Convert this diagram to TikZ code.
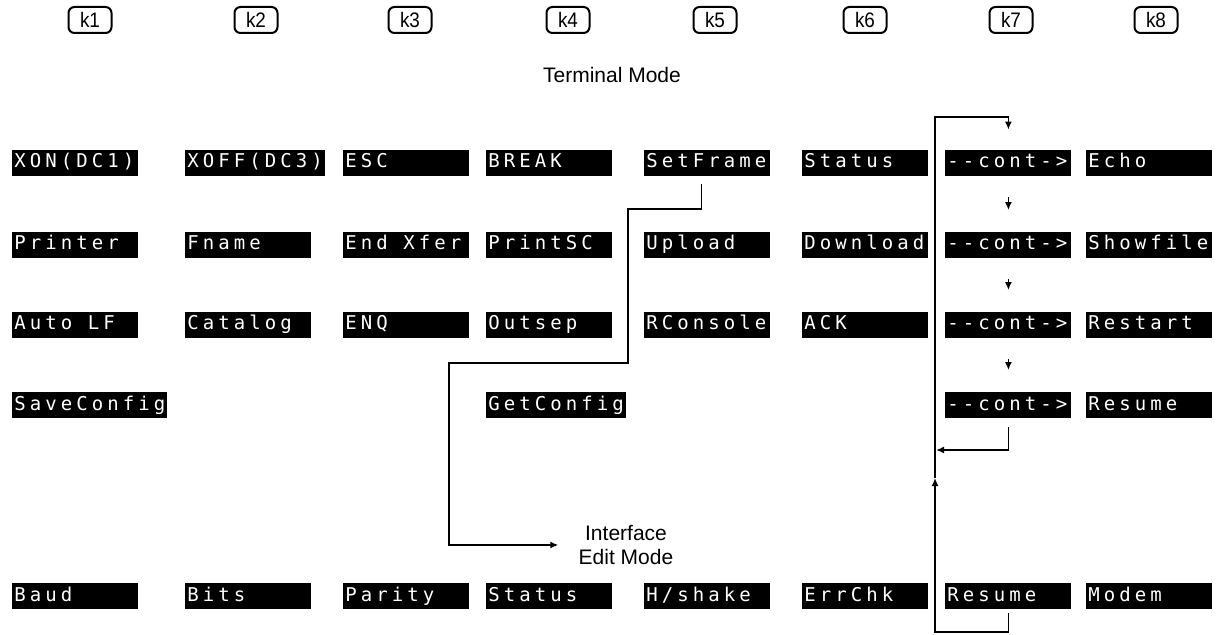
\documentclass[tikz,border=0pt]{standalone}
\usepackage{fontspec}
\setmainfont{Liberation Sans}
\newfontfamily\dispfont[LetterSpace=21.4]{DejaVu Sans Mono}
\newfontfamily\capfont[FakeStretch=0.9]{Liberation Sans}
\usetikzlibrary{arrows.meta}

\newlength\skwd
\newcommand\skey[1]{\settowidth\skwd{#1}\ifdim\skwd<61pt\makebox[61pt][l]{#1}\else#1\fi}

\tikzset{
  softkey/.style={fill=black, text=white, font=\dispfont\fontsize{9.5}{11}\selectfont,
    inner xsep=1pt, inner ysep=0pt, minimum height=13pt, text height=7pt, text depth=2pt, anchor=west},
  keycap/.style={draw, rounded corners=3pt, line width=1pt, minimum width=21.5pt,
    minimum height=13pt, inner sep=0pt, font=\capfont\fontsize{10.5}{11}\selectfont},
  modelabel/.style={font=\fontsize{10.5}{12}\selectfont, align=center, inner sep=0pt},
  link/.style={line width=0.9pt},
  arr/.style={link, -{Latex[length=4pt,width=3.5pt]}}
}

\begin{document}
\begin{tikzpicture}[x=0.5pt,y=-0.5pt]
   \useasboundingbox (0,0) rectangle (1224,635);

   %teclas
   \node[keycap] (k1) at (90,20) {k1};
   \node[keycap] (k2) at (256,20) {k2};
   \node[keycap] (k3) at (410,20) {k3};
   \node[keycap] (k4) at (568,20) {k4};
   \node[keycap] (k5) at (715,20) {k5};
   \node[keycap] (k6) at (865,20) {k6};
   \node[keycap] (k7) at (1011,20) {k7};
   \node[keycap] (k8) at (1156,20) {k8};

   \node[modelabel] (term) at (612,75) {Terminal Mode};

   %fila 1
   \node[softkey] (xon) at (12,163) {\skey{XON(DC1)}};
   \node[softkey] (xoff) at (185,163) {\skey{XOFF(DC3)}};
   \node[softkey] (esc) at (343,163) {\skey{ESC}};
   \node[softkey] (brk) at (486,163) {\skey{BREAK}};
   \node[softkey] (setframe) at (644,163) {\skey{SetFrame}};
   \node[softkey] (status) at (802,163) {\skey{Status}};
   \node[softkey] (cont1) at (945,163) {\skey{--cont->}};
   \node[softkey] (echo) at (1086,163) {\skey{Echo}};

   %fila 2
   \node[softkey] (printer) at (12,245) {\skey{Printer}};
   \node[softkey] (fname) at (185,245) {\skey{Fname}};
   \node[softkey] (endxfer) at (343,245) {\skey{End Xfer}};
   \node[softkey] (printsc) at (486,245) {\skey{PrintSC}};
   \node[softkey] (upload) at (644,245) {\skey{Upload}};
   \node[softkey] (download) at (802,245) {\skey{Download}};
   \node[softkey] (cont2) at (945,245) {\skey{--cont->}};
   \node[softkey] (showfile) at (1086,245) {\skey{Showfile}};

   %fila 3
   \node[softkey] (autolf) at (12,325) {\skey{Auto LF}};
   \node[softkey] (catalog) at (185,325) {\skey{Catalog}};
   \node[softkey] (enq) at (343,325) {\skey{ENQ}};
   \node[softkey] (outsep) at (486,325) {\skey{Outsep}};
   \node[softkey] (rconsole) at (644,325) {\skey{RConsole}};
   \node[softkey] (ack) at (802,325) {\skey{ACK}};
   \node[softkey] (cont3) at (945,325) {\skey{--cont->}};
   \node[softkey] (restart) at (1086,325) {\skey{Restart}};

   %fila 4
   \node[softkey] (saveconfig) at (12,405) {\skey{SaveConfig}};
   \node[softkey] (getconfig) at (486,405) {\skey{GetConfig}};
   \node[softkey] (cont4) at (945,405) {\skey{--cont->}};
   \node[softkey] (resume) at (1086,405) {\skey{Resume}};

   %modo interfaz
   \node[modelabel] (iface) at (626,545) {Interface\\Edit Mode};
   \node[softkey] (baud) at (12,596) {\skey{Baud}};
   \node[softkey] (bits) at (185,596) {\skey{Bits}};
   \node[softkey] (parity) at (343,596) {\skey{Parity}};
   \node[softkey] (istatus) at (486,596) {\skey{Status}};
   \node[softkey] (hshake) at (644,596) {\skey{H/shake}};
   \node[softkey] (errchk) at (802,596) {\skey{ErrChk}};
   \node[softkey] (iresume) at (945,596) {\skey{Resume}};
   \node[softkey] (modem) at (1086,596) {\skey{Modem}};

   %flechas
   \coordinate (loopin) at (936,450);
   \coordinate (loopbot) at (935,478);
   \draw[arr] ([xshift=-3pt,yshift=-4pt]setframe.south) -- ++(0,25) -| (628,363) -- (449,363) |- ([xshift=-10pt]iface.west);
   \draw[arr,shorten <=10.25pt,shorten >=10.75pt] (cont1) -- (cont2);
   \draw[arr,shorten <=10.25pt,shorten >=10.75pt] (cont2) -- (cont3);
   \draw[arr,shorten <=10.25pt,shorten >=10.75pt] (cont3) -- (cont4);
   \draw[arr] ([yshift=-4.5pt]cont4.south) |- (loopin);
   \draw[arr] (loopbot) -- (935,117) -| ([yshift=10pt]cont1.north);
   \draw[arr] ([yshift=-2pt]iresume.south) |- (935,632) -- (loopbot);
\end{tikzpicture}
\end{document}
